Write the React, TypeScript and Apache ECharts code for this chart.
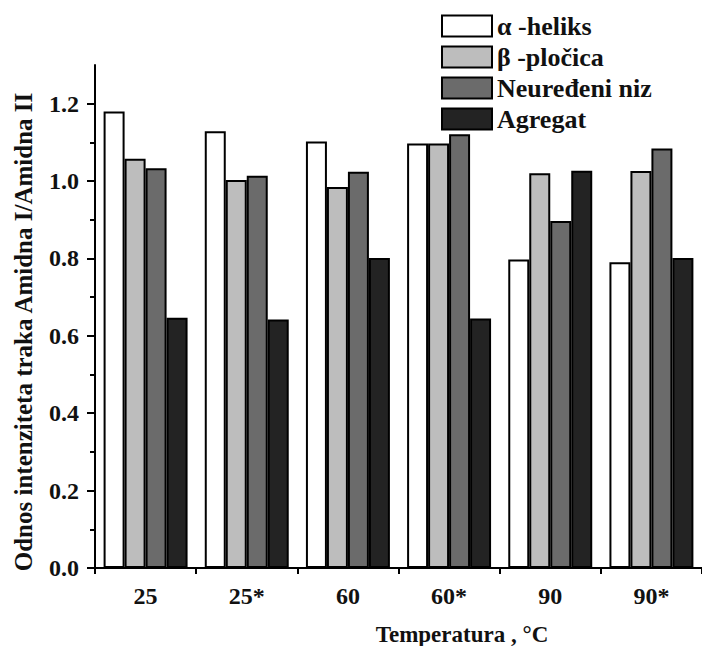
import React, { useEffect, useRef } from "react";
import * as echarts from "echarts";

const categories = ["25", "25*", "60", "60*", "90", "90*"];
const seriesNames = ["α -heliks", "β -pločica", "Neuređeni niz", "Agregat"];
const alphaHelix = [1.18, 1.129, 1.102, 1.097, 0.797, 0.79];
const betaSheet = [1.058, 1.003, 0.985, 1.097, 1.02, 1.026];
const randomCoil = [1.033, 1.014, 1.024, 1.121, 0.897, 1.084];
const aggregate = [0.647, 0.642, 0.801, 0.645, 1.027, 0.801];
const yMajorTicks = [0, 0.2, 0.4, 0.6, 0.8, 1.0, 1.2];
const yMinorTicks = [0.1, 0.3, 0.5, 0.7, 0.9, 1.1];
const seriesColors = ["#ffffff", "#bdbdbd", "#6b6b6b", "#232323"];
const yTitle = "Odnos intenziteta traka Amidna I/Amidna II";
const xTitle = "Temperatura , °C";

const FONT = "Liberation Serif";

export default function App() {
  const ref = useRef<HTMLDivElement>(null);
  useEffect(() => {
    if (!ref.current) return;
    const chart = echarts.init(ref.current, undefined, { renderer: "svg" });
    const values = [alphaHelix, betaSheet, randomCoil, aggregate];
    const option: any = {
      animation: false,
      backgroundColor: "#ffffff",
      textStyle: { fontFamily: FONT },
      grid: { left: 95, top: 65, width: 616, height: 503, containLabel: false },
      legend: {
        orient: "vertical",
        left: 441,
        top: 13,
        padding: 0,
        itemWidth: 50,
        itemHeight: 21,
        itemGap: 5,
        icon: "rect",
        data: seriesNames,
        textStyle: { fontFamily: FONT, fontWeight: "bold", fontSize: 26, color: "#111" },
      },
      xAxis: [
        {
          type: "category",
          data: categories,
          position: "bottom",
          axisLine: { lineStyle: { color: "#000", width: 2 } },
          axisTick: { alignWithLabel: true, length: 11, lineStyle: { color: "#000", width: 2 } },
          axisLabel: { fontFamily: FONT, fontWeight: "bold", fontSize: 24, color: "#111", margin: 16 },
          splitLine: { show: false },
        },
        {
          type: "value",
          min: 0,
          max: 6,
          interval: 1,
          position: "bottom",
          axisLine: { show: false },
          axisTick: { show: true, length: 6, lineStyle: { color: "#000", width: 2 } },
          axisLabel: { show: false },
          splitLine: { show: false },
        },
      ],
      yAxis: [
        {
          type: "value",
          min: 0,
          max: 1.3,
          position: "left",
          axisLine: { show: true, lineStyle: { color: "#000", width: 2 } },
          axisTick: { show: true, length: 8, customValues: yMajorTicks, lineStyle: { color: "#000", width: 2 } },
          axisLabel: {
            customValues: yMajorTicks,
            fontFamily: FONT,
            fontWeight: "bold",
            fontSize: 24,
            color: "#111",
            margin: 16,
            formatter: (v: number) => v.toFixed(1),
          },
          splitLine: { show: false },
        },
        {
          type: "value",
          min: 0,
          max: 1.3,
          position: "left",
          axisLine: { show: false },
          axisTick: { show: true, length: 5, customValues: yMinorTicks, lineStyle: { color: "#000", width: 2 } },
          axisLabel: { show: false },
          splitLine: { show: false },
        },
      ],
      series: seriesNames.map((name, i) => ({
        name,
        type: "bar",
        xAxisIndex: 0,
        yAxisIndex: 0,
        data: values[i],
        barGap: "0%",
        barCategoryGap: "17%",
        itemStyle: { color: seriesColors[i], borderColor: "#000", borderWidth: 2 },
      })),
      graphic: [
        {
          type: "text",
          x: 23,
          y: 332,
          rotation: Math.PI / 2,
          style: {
            text: yTitle,
            fontFamily: FONT,
            fontWeight: "bold",
            fontSize: 25,
            fill: "#111",
            textAlign: "center",
            textVerticalAlign: "middle",
            align: "center",
            verticalAlign: "middle",
          },
        },
        {
          type: "text",
          x: 462,
          y: 634,
          style: {
            text: xTitle,
            fontFamily: FONT,
            fontWeight: "bold",
            fontSize: 23,
            fill: "#111",
            textAlign: "center",
            textVerticalAlign: "middle",
            align: "center",
            verticalAlign: "middle",
          },
        },
      ],
    };
    chart.setOption(option);
    return () => chart.dispose();
  }, []);
  return (
    <div
      ref={ref}
      style={{ position: "fixed", left: 0, top: 0, width: 702, height: 646, background: "#fff" }}
    />
  );
}
